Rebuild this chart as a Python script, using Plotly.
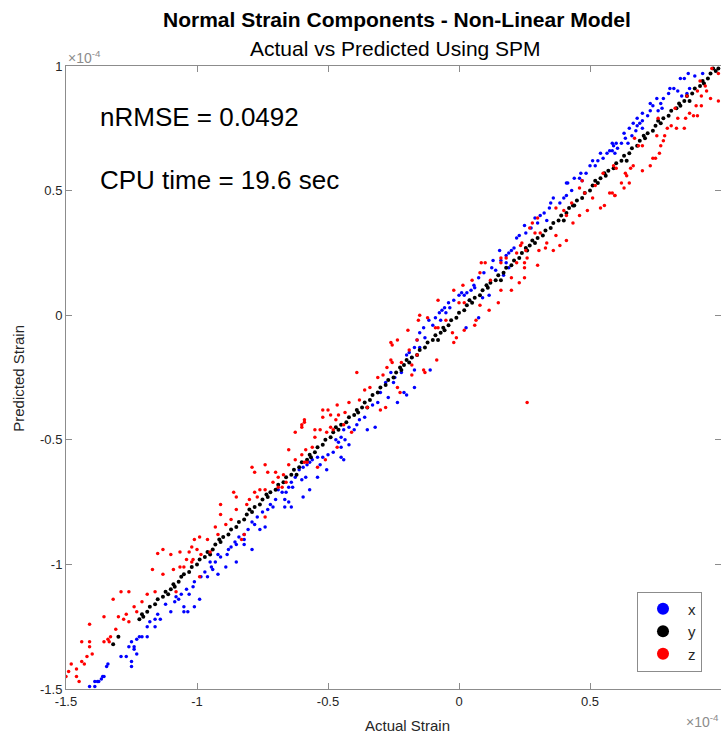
import plotly.graph_objects as go

# values in units of 1e-4 (actual, predicted)
x_points = [
    (-1.12,-1.16),(-1.15,-1.20),(-1.16,-1.22),(-1.18,-1.23),(-1.14,-1.22),(-1.16,-1.25),(-1.19,-1.25),(-1.19,-1.29),
    (-1.21,-1.29),(-1.22,-1.29),(-1.23,-1.30),(-1.25,-1.31),(-1.24,-1.33),(-1.26,-1.33),(-1.24,-1.34),(-1.23,-1.36),
    (-1.29,-1.37),(-1.27,-1.37),(-1.25,-1.39),(-1.25,-1.41),(-1.34,-1.40),(-1.345,-1.41),(-1.355,-1.45),(-1.36,-1.45),
    (-1.365,-1.46),(-1.38,-1.47),(-1.375,-1.47),(-1.39,-1.47),(-1.41,-1.49),(-1.39,-1.49),
    (-0.69,-0.70),(-0.70,-0.74),(-0.72,-0.76),(-0.71,-0.77),(-0.73,-0.78),(-0.74,-0.85),(-0.76,-0.86),(-0.77,-0.81),
    (-0.79,-0.83),(-0.805,-0.86),(-0.82,-0.88),(-0.82,-0.90),(-0.82,-0.92),(-0.79,-0.94),(-0.84,-0.89),(-0.85,-0.92),
    (-0.855,-0.91),(-0.87,-0.93),(-0.885,-0.96),(-0.91,-0.97),(-0.92,-0.96),(-0.93,-0.99),(-0.945,-1.01),(-0.95,-0.99),
    (-0.85,-0.99),(-0.89,-1.01),(-0.92,-1.04),(-0.97,-1.03),(-0.96,-1.05),(-0.985,-1.05),(-1.01,-1.07),(-1.015,-1.09),
    (-1.04,-1.10),(-1.03,-1.12),(-1.06,-1.12),(-1.07,-1.14),(-1.085,-1.15),(-1.05,-1.17),(-1.10,-1.19),(-1.05,-1.19),
    (-1.035,-1.19),(-0.99,-1.14),(-1.01,-1.17),(-0.75,-0.79),(-0.78,-0.84),(-0.88,-0.94),(-0.94,-1.02),(-1.08,-1.13),
    (-0.26,-0.23),(-0.28,-0.27),(-0.27,-0.33),(-0.31,-0.35),(-0.33,-0.36),(-0.36,-0.41),(-0.32,-0.45),(-0.35,-0.46),
    (-0.39,-0.44),(-0.40,-0.46),(-0.42,-0.45),(-0.44,-0.46),(-0.435,-0.50),(-0.42,-0.52),(-0.45,-0.49),(-0.47,-0.50),
    (-0.45,-0.53),(-0.48,-0.55),(-0.45,-0.57),(-0.44,-0.58),(-0.50,-0.56),(-0.505,-0.62),(-0.52,-0.57),(-0.54,-0.57),
    (-0.56,-0.58),(-0.57,-0.59),(-0.58,-0.60),(-0.595,-0.61),(-0.61,-0.62),(-0.585,-0.65),(-0.54,-0.65),(-0.625,-0.65),
    (-0.64,-0.67),(-0.635,-0.69),(-0.65,-0.69),(-0.66,-0.71),(-0.675,-0.71),(-0.665,-0.74),(-0.57,-0.70),(-0.595,-0.73),
    (-0.65,-0.75),(-0.64,-0.77),(-0.665,-0.77),(-0.30,-0.31),(-0.38,-0.42),(-0.46,-0.51),(-0.53,-0.60),(-0.60,-0.66),
    (0.155,0.26),(0.16,0.22),(0.13,0.22),(0.125,0.19),(0.14,0.18),(0.095,0.17),(0.075,0.15),(0.057,0.12),
    (0.046,0.10),(0.03,0.09),(0.01,0.09),(0.00,0.08),(-0.02,0.06),(-0.04,0.05),(-0.035,0.03),(-0.055,0.03),
    (-0.065,0.02),(-0.075,0.01),(-0.09,-0.01),(-0.07,-0.02),(-0.115,-0.02),(-0.135,-0.05),(-0.15,-0.07),(-0.13,-0.09),
    (-0.16,-0.10),(-0.17,-0.13),(-0.15,-0.13),(-0.19,-0.15),(-0.18,-0.17),(-0.20,-0.16),(-0.11,-0.22),(-0.17,-0.22),
    (-0.22,-0.23),(-0.245,-0.25),(-0.25,-0.27),(-0.17,-0.29),(-0.21,-0.31),(-0.20,-0.32),(-0.235,-0.35),(0.04,0.06),
    (0.075,-0.01),(0.027,-0.05),(0.115,0.08),(0.09,0.07),(0.06,0.11),(0.02,0.08),(-0.05,0.01),(-0.10,-0.04),
    (0.585,0.69),(0.575,0.66),(0.565,0.65),(0.54,0.65),(0.55,0.63),(0.53,0.62),(0.51,0.62),(0.50,0.60),
    (0.485,0.57),(0.465,0.57),(0.46,0.55),(0.44,0.55),(0.415,0.53),(0.41,0.53),(0.43,0.50),(0.41,0.48),
    (0.40,0.47),(0.385,0.45),(0.36,0.47),(0.35,0.45),(0.345,0.43),(0.325,0.41),(0.31,0.40),(0.29,0.39),
    (0.335,0.38),(0.30,0.37),(0.275,0.35),(0.25,0.36),(0.255,0.33),(0.23,0.32),(0.22,0.31),(0.21,0.27),
    (0.20,0.26),(0.19,0.25),(0.18,0.24),(0.18,0.21),(0.19,0.19),(0.17,0.16),(0.47,0.54),(0.52,0.60),
    (0.875,0.97),(0.86,0.95),(0.845,0.95),(0.82,0.91),(0.805,0.91),(0.80,0.89),(0.835,0.90),(0.87,0.89),
    (0.85,0.88),(0.88,0.91),(0.78,0.87),(0.755,0.87),(0.77,0.85),(0.74,0.84),(0.775,0.83),(0.73,0.82),
    (0.70,0.81),(0.72,0.80),(0.68,0.79),(0.70,0.78),(0.69,0.77),(0.665,0.77),(0.65,0.75),(0.675,0.74),
    (0.70,0.75),(0.66,0.72),(0.635,0.71),(0.645,0.69),(0.62,0.69),(0.60,0.69),(0.59,0.68),(0.605,0.67),
    (0.585,0.66),(0.595,0.65),(0.73,0.85),(0.90,0.96),(0.93,0.97),(0.76,0.82),(0.63,0.73),(0.68,0.76),
]

y_points = [
    (-1.32,-1.32),(-1.30,-1.29),(-1.22,-1.22),(-1.21,-1.20),(-1.19,-1.19),(-1.18,-1.17),(-1.16,-1.16),(-1.15,-1.14),
    (-1.13,-1.13),(-1.12,-1.11),(-1.10,-1.10),(-1.09,-1.08),(-1.07,-1.07),(-1.06,-1.05),(-1.05,-1.04),(-1.03,-1.03),
    (-1.02,-1.01),(-1.00,-1.00),(-0.99,-0.98),(-0.97,-0.97),(-0.96,-0.95),(-0.94,-0.94),(-0.93,-0.92),(-0.91,-0.91),
    (-0.90,-0.89),(-0.88,-0.88),(-0.87,-0.86),(-0.85,-0.85),(-0.84,-0.83),(-0.82,-0.82),(-0.81,-0.80),(-0.79,-0.79),
    (-0.78,-0.77),(-0.76,-0.76),(-0.75,-0.74),(-0.73,-0.73),(-0.72,-0.71),(-0.70,-0.70),(-0.69,-0.68),(-0.67,-0.67),
    (-0.66,-0.65),(-0.64,-0.64),(-0.63,-0.62),(-0.61,-0.61),(-0.60,-0.59),(-0.58,-0.58),(-0.57,-0.56),(-0.55,-0.55),
    (-0.54,-0.53),(-0.52,-0.52),(-0.51,-0.50),(-0.49,-0.49),(-0.48,-0.47),(-0.46,-0.46),(-0.45,-0.44),(-0.43,-0.43),
    (-0.42,-0.41),(-0.40,-0.40),(-0.39,-0.38),(-0.37,-0.37),(-0.36,-0.35),(-0.34,-0.34),(-0.33,-0.32),(-0.31,-0.31),
    (-0.30,-0.29),(-0.28,-0.28),(-0.27,-0.26),(-0.25,-0.25),(-0.24,-0.23),(-0.22,-0.22),(-0.21,-0.20),(-0.19,-0.19),
    (-0.18,-0.17),(-0.16,-0.16),(-0.15,-0.14),(-0.13,-0.13),(-0.12,-0.11),(-0.10,-0.10),(-0.09,-0.08),(-0.07,-0.07),
    (-0.06,-0.05),(-0.04,-0.04),(-0.03,-0.02),(-0.01,-0.01),(0.00,0.01),(0.02,0.02),(0.03,0.04),(0.05,0.05),
    (0.06,0.07),(0.08,0.08),(0.09,0.10),(0.11,0.11),(0.12,0.13),(0.14,0.14),(0.15,0.16),(0.17,0.17),
    (0.18,0.19),(0.20,0.20),(0.21,0.22),(0.23,0.23),(0.24,0.25),(0.26,0.26),(0.27,0.28),(0.29,0.29),
    (0.30,0.31),(0.32,0.32),(0.33,0.34),(0.35,0.35),(0.36,0.37),(0.38,0.38),(0.39,0.40),(0.41,0.41),
    (0.42,0.43),(0.44,0.44),(0.45,0.46),(0.47,0.47),(0.48,0.49),(0.50,0.50),(0.51,0.52),(0.53,0.53),
    (0.54,0.55),(0.56,0.56),(0.57,0.58),(0.59,0.59),(0.60,0.61),(0.62,0.62),(0.63,0.64),(0.65,0.65),
    (0.66,0.67),(0.68,0.68),(0.69,0.70),(0.71,0.71),(0.72,0.73),(0.74,0.74),(0.75,0.76),(0.77,0.77),
    (0.78,0.79),(0.80,0.80),(0.81,0.82),(0.83,0.83),(0.84,0.85),(0.86,0.86),(0.87,0.88),(0.89,0.89),
    (0.90,0.91),(0.92,0.92),(0.93,0.94),(0.95,0.95),(0.96,0.97),(0.98,0.98),(0.99,0.99),
    (-1.11,-1.12),(-0.95,-0.96),(-0.80,-0.78),(-0.62,-0.64),(-0.47,-0.45),(-0.35,-0.37),(-0.20,-0.18),(-0.08,-0.10),
    (0.04,0.06),(0.16,0.14),(0.28,0.30),(0.40,0.38),(0.52,0.54),(0.64,0.62),(0.76,0.78),(0.88,0.86),(0.97,0.99),
    (-1.205,-1.21),(-1.085,-1.09),(-0.915,-0.90),(-0.735,-0.72),(-0.565,-0.57),(-0.385,-0.39),(-0.225,-0.21),
    (-0.055,-0.06),(0.105,0.12),(0.255,0.27),(0.435,0.44),(0.555,0.57),(0.705,0.72),(0.845,0.84),(0.935,0.93),
]

z_points = [
    (-1.13,-0.94),(-1.15,-0.956),(-1.17,-1.02),(-1.13,-1.04),(-1.26,-1.11),(-1.29,-1.11),(-1.19,-1.12),(-1.16,-1.11),
    (-1.32,-1.14),(-1.21,-1.15),(-1.24,-1.17),(-1.27,-1.20),(-1.355,-1.21),(-1.30,-1.21),(-1.23,-1.19),(-1.28,-1.22),
    (-1.26,-1.23),(-1.41,-1.24),(-1.31,-1.26),(-1.34,-1.30),(-1.355,-1.31),(-1.33,-1.29),(-1.44,-1.31),(-1.41,-1.31),
    (-1.41,-1.33),(-1.40,-1.36),(-1.42,-1.37),(-1.44,-1.39),(-1.43,-1.40),(-1.48,-1.40),(-1.46,-1.42),(-1.49,-1.43),
    (-1.50,-1.45),(-1.46,-1.45),(-1.45,-1.47),(-1.335,-1.31),
    (-0.79,-0.61),(-0.74,-0.60),(-0.78,-0.63),(-0.73,-0.63),(-0.70,-0.63),(-0.69,-0.65),(-0.71,-0.67),(-0.76,-0.70),
    (-0.74,-0.70),(-0.69,-0.69),(-0.78,-0.71),(-0.77,-0.73),(-0.86,-0.71),(-0.85,-0.73),(-0.81,-0.76),(-0.91,-0.76),
    (-0.85,-0.78),(-0.91,-0.80),(-0.87,-0.82),(-0.74,-0.81),(-0.93,-0.85),(-0.96,-0.90),(-0.92,-0.88),(-0.99,-0.89),
    (-1.01,-0.90),(-1.02,-0.93),(-1.065,-0.95),(-1.00,-0.94),(-1.03,-0.95),(-0.95,-0.95),(-0.985,-0.96),(-1.10,-0.96),
    (-1.015,-0.98),(-1.02,-0.99),(-1.05,-1.01),(-1.09,-1.02),(-1.065,-1.01),(-0.99,-1.05),(-1.08,-1.11),(-0.82,-0.88),
    (-0.83,-0.90),(-0.80,-0.74),(-0.89,-0.84),(-1.04,-0.98),
    (-0.26,-0.11),(-0.26,-0.18),(-0.275,-0.21),(-0.29,-0.24),(-0.31,-0.25),(-0.39,-0.23),(-0.34,-0.29),(-0.36,-0.30),
    (-0.28,-0.37),(-0.30,-0.38),(-0.35,-0.37),(-0.42,-0.35),(-0.465,-0.36),(-0.52,-0.38),(-0.50,-0.38),(-0.435,-0.39),
    (-0.46,-0.40),(-0.49,-0.40),(-0.47,-0.42),(-0.52,-0.41),(-0.59,-0.42),(-0.59,-0.43),(-0.60,-0.44),(-0.60,-0.45),
    (-0.53,-0.46),(-0.55,-0.46),(-0.49,-0.45),(-0.48,-0.46),(-0.625,-0.47),(-0.55,-0.49),(-0.505,-0.47),(-0.41,-0.47),
    (-0.56,-0.53),(-0.65,-0.54),(-0.465,-0.53),(-0.585,-0.54),(-0.60,-0.56),(-0.625,-0.58),(-0.54,-0.61),(-0.51,-0.58),
    (-0.65,-0.60),(-0.58,-0.59),(-0.59,-0.59),(-0.67,-0.64),(-0.675,-0.69),(-0.66,-0.67),(-0.44,-0.44),(-0.38,-0.34),
    (0.16,0.23),(0.16,0.21),(0.10,0.21),(0.085,0.21),(0.08,0.17),(0.015,0.12),(0.05,0.14),(-0.02,0.10),
    (-0.08,0.06),(0.00,0.05),(0.02,0.05),(0.08,0.04),(0.16,0.10),(0.15,0.05),(0.115,0.02),(0.065,-0.02),
    (0.06,-0.04),(-0.15,0.00),(-0.12,-0.01),(-0.155,-0.02),(-0.09,-0.05),(-0.08,-0.05),(-0.025,-0.07),(-0.01,-0.09),
    (-0.02,-0.11),(0.02,-0.06),(-0.195,-0.06),(-0.235,-0.10),(-0.255,-0.12),(-0.16,-0.10),(-0.19,-0.14),(-0.16,-0.16),
    (-0.22,-0.19),(-0.255,-0.19),(-0.18,-0.20),(-0.135,-0.22),(-0.13,-0.23),(-0.085,-0.18),(-0.18,-0.24),(-0.235,-0.29),
    (-0.225,-0.31),(-0.05,-0.02),(0.12,0.14),
    (0.59,0.60),(0.575,0.49),(0.595,0.48),(0.55,0.57),(0.54,0.43),(0.555,0.44),(0.51,0.47),(0.49,0.42),
    (0.48,0.49),(0.47,0.54),(0.43,0.45),(0.46,0.40),(0.435,0.37),(0.41,0.40),(0.37,0.43),(0.41,0.30),
    (0.385,0.28),(0.335,0.29),(0.37,0.32),(0.36,0.26),(0.33,0.27),(0.305,0.26),(0.30,0.39),(0.28,0.37),
    (0.27,0.35),(0.29,0.33),(0.31,0.33),(0.24,0.29),(0.235,0.28),(0.255,0.26),(0.26,0.23),(0.22,0.25),
    (0.25,0.21),(0.22,0.21),(0.25,0.19),(0.30,0.20),(0.18,0.23),(0.20,0.15),(0.25,0.15),(0.23,0.13),
    (0.20,0.10),(0.46,0.51),(0.52,0.52),(0.40,0.42),
    (0.965,0.99),(0.99,0.97),(0.92,0.94),(0.94,0.92),(0.945,0.90),(0.91,0.90),(0.925,0.88),(0.96,0.87),
    (0.99,0.86),(0.87,0.88),(0.905,0.84),(0.925,0.84),(0.88,0.81),(0.895,0.80),(0.91,0.80),(0.865,0.79),
    (0.86,0.75),(0.825,0.83),(0.835,0.79),(0.81,0.76),(0.83,0.75),(0.795,0.75),(0.76,0.79),(0.755,0.72),
    (0.785,0.72),(0.78,0.70),(0.77,0.68),(0.765,0.65),(0.74,0.63),(0.73,0.60),(0.75,0.63),(0.67,0.71),
    (0.685,0.68),(0.70,0.68),(0.665,0.60),(0.70,0.58),(0.655,0.59),(0.635,0.57),(0.64,0.56),(0.60,0.59),
    (0.62,0.53),(0.65,0.53),(0.63,0.51),(0.585,0.49),(0.595,0.48),
    (0.26,-0.35),
]

series = [("x", x_points, "#0000ff", 3.5), ("y", y_points, "#000000", 4), ("z", z_points, "#ff0000", 3.5)]

title_main = "Normal Strain Components - Non-Linear Model"
title_sub = "Actual vs Predicted Using SPM"
note_rmse = "nRMSE = 0.0492"
note_cpu = "CPU time = 19.6 sec"
x_title = "Actual Strain"
y_title = "Predicted Strain"
x_ticks = [-1.5, -1, -0.5, 0, 0.5]
y_ticks = [-1.5, -1, -0.5, 0, 0.5, 1]

FONT = "Liberation Sans, Arial, Helvetica, sans-serif"
AX = "#8c8c8c"
TXT = "#262626"

fig = go.Figure()
for name, pts, col, sz in series:
    fig.add_trace(go.Scatter(
        x=[p[0] for p in pts], y=[p[1] for p in pts], mode="markers", name=name,
        marker=dict(color=col, size=sz, line=dict(width=0)),
    ))

axis_common = dict(
    showgrid=False, zeroline=False, showline=True, linecolor=AX, linewidth=1,
    mirror="ticks", ticks="inside", ticklen=6, tickcolor=AX,
    tickfont=dict(family=FONT, size=13, color=TXT),
)
fig.update_xaxes(range=[-1.5, 1.0], tickvals=x_ticks, ticktext=[str(v) for v in x_ticks], **axis_common)
fig.update_yaxes(range=[-1.5, 1.0], tickvals=y_ticks, ticktext=[str(v) for v in y_ticks], **axis_common)

fig.update_layout(
    width=721, height=735,
    margin=dict(l=66, r=0, t=66, b=46),
    plot_bgcolor="white", paper_bgcolor="white",
    font=dict(family=FONT, color=TXT),
    showlegend=True,
    legend=dict(x=0.971, y=0.028, xanchor="right", yanchor="bottom",
                bgcolor="white", bordercolor="#8c8c8c", borderwidth=1,
                font=dict(family=FONT, size=15, color=TXT), itemsizing="constant",
                itemwidth=40, tracegroupgap=0),
    annotations=[
        dict(text="<b>" + title_main + "</b>", xref="paper", yref="paper", x=0.506, y=1.0,
             yshift=47, xanchor="center", yanchor="middle", showarrow=False,
             font=dict(family=FONT, size=21, color="black")),
        dict(text=title_sub, xref="paper", yref="paper", x=0.503, y=1.0,
             yshift=18, xanchor="center", yanchor="middle", showarrow=False,
             font=dict(family=FONT, size=21, color="black")),
        dict(text=note_rmse, xref="paper", yref="paper", x=0.049, y=0.918,
             xanchor="left", yanchor="middle", showarrow=False,
             font=dict(family=FONT, size=26, color="black")),
        dict(text=note_cpu, xref="paper", yref="paper", x=0.049, y=0.817,
             xanchor="left", yanchor="middle", showarrow=False,
             font=dict(family=FONT, size=26, color="black")),
        dict(text=x_title, xref="paper", yref="paper", x=0.522, y=0.0,
             yshift=-36, xanchor="center", yanchor="middle", showarrow=False,
             font=dict(family=FONT, size=15, color=TXT)),
        dict(text=y_title, xref="paper", yref="paper", x=0.0, y=0.498,
             xshift=-47, xanchor="center", yanchor="middle", showarrow=False, textangle=-90,
             font=dict(family=FONT, size=15, color=TXT)),
        dict(text="×10<sup>-4</sup>", xref="paper", yref="paper", x=0.0, y=1.0,
             yshift=9, xanchor="left", yanchor="middle", showarrow=False,
             font=dict(family=FONT, size=14, color="#8c8c8c")),
        dict(text="×10<sup>-4</sup>", xref="paper", yref="paper", x=1.0, y=0.0,
             yshift=-32, xanchor="right", yanchor="middle", showarrow=False,
             font=dict(family=FONT, size=14, color="#8c8c8c")),
    ],
)

fig.write_html("out.html")
